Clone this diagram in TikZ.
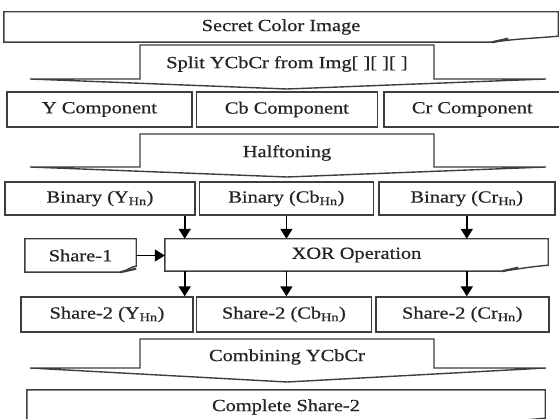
\documentclass[tikz,border=0pt]{standalone}
\usepackage{fontspec}
\setmainfont{Liberation Serif}[FakeStretch=1.2, FakeBold=0.6]
\usetikzlibrary{arrows.meta, positioning}

\definecolor{inkgray}{RGB}{62,62,62}
\definecolor{textdark}{RGB}{38,34,34}

% document box: flat top, bottom right corner curled up
\newcommand{\docoutline}[2]{%
  \draw[edge] (#1.north west) -- (#1.north east) -- ([yshift=6pt]#1.south east)
    to[out=185, in=8] ([xshift=-#2]#1.south east) -- (#1.south west) -- cycle;
  \draw[edge, line width=2.2pt] ([xshift=-#2]#1.south east) -- ++(16pt,3.5pt);}

% wide block arrow pointing down (top, wing level, tip)
\newcommand{\mergearrow}[3]{%
  \draw[edge, fill=white] (140,#1) -- (434,#1) -- (434,#2) -- (546,#2)
    -- (287,#3) -- (30,#2) -- (140,#2) -- cycle;}

\begin{document}
\begin{tikzpicture}[
  x=1pt, y=-1pt,
  font=\fontsize{17}{19}\selectfont, text=textdark,
  edge/.style ={draw=inkgray, line width=1.4pt, line join=miter},
  cell/.style ={draw=inkgray, line width=1.4pt, inner sep=0pt,
                minimum height=35pt},
  doc/.style  ={inner sep=0pt},
  lbl/.style  ={inner sep=0pt},
  arr/.style  ={-{Triangle[length=10pt, width=12pt]}, draw=black,
                line width=1.8pt},
]
\useasboundingbox (0,0) rectangle (559,419);

\node[doc, minimum width=554pt, minimum height=30pt] (secret) at (281,27)
  {Secret Color Image};
\docoutline{secret}{66pt}

\mergearrow{45}{79}{89}
\node[lbl] (split) at (287,64) {Split YCbCr from Img[ ][ ][ ]};

\node[cell, minimum width=185pt] (ycomp) at (99.5,109.5) {Y Component};
\node[cell, minimum width=181pt, right=3pt of ycomp] (cbcomp) {Cb Component};
\node[cell, minimum width=177pt, right=5pt of cbcomp] (crcomp) {Cr Component};

\mergearrow{134}{167}{177}
\node[lbl] (halftone) at (287,153) {Halftoning};

\node[cell, minimum width=190pt, minimum height=33pt] (ybin) at (100,198.5)
  {Binary (Y\textsubscript{Hn})};
\node[cell, minimum width=174pt, minimum height=33pt, right=3pt of ybin] (cbbin)
  {Binary (Cb\textsubscript{Hn})};
\node[cell, minimum width=176pt, minimum height=33pt, right=4pt of cbbin] (crbin)
  {Binary (Cr\textsubscript{Hn})};

\node[doc, minimum width=111pt, minimum height=33pt] (share1) at (80.5,255.5)
  {Share-1};
\docoutline{share1}{16pt}
\node[doc, minimum width=383pt, minimum height=32pt] (xor) at (356.5,255)
  {XOR Operation};
\docoutline{xor}{46pt}

\node[cell, minimum width=172pt] (yshare) at (107,314.5)
  {Share-2 (Y\textsubscript{Hn})};
\node[cell, minimum width=175pt, right=2pt of yshare] (cbshare)
  {Share-2 (Cb\textsubscript{Hn})};
\node[cell, minimum width=173pt, right=3pt of cbshare] (crshare)
  {Share-2 (Cr\textsubscript{Hn})};

\mergearrow{339}{368}{382}
\node[lbl] (combine) at (287,357) {Combining YCbCr};

\node[doc, minimum width=518pt, minimum height=34pt] (complete) at (286,407)
  {Complete Share-2};
\docoutline{complete}{56pt}

% taps into and out of the XOR stage
\coordinate (tapY) at ([xshift=-11pt]ybin.south east);
\draw[arr] (tapY) -- (tapY |- xor.north);
\draw[arr] (cbbin.south) -- (cbbin.south |- xor.north);
\draw[arr] (crbin.south) -- (crbin.south |- xor.north);
\draw[arr, line width=1.4pt] (share1.east) -- (share1.east -| xor.west);
\draw[arr] (tapY |- xor.south) -- (tapY |- yshare.north);
\draw[arr] (cbbin.south |- xor.south) -- (cbbin.south |- cbshare.north);
\draw[arr] (crbin.south |- xor.south) -- (crbin.south |- crshare.north);
\end{tikzpicture}
\end{document}
